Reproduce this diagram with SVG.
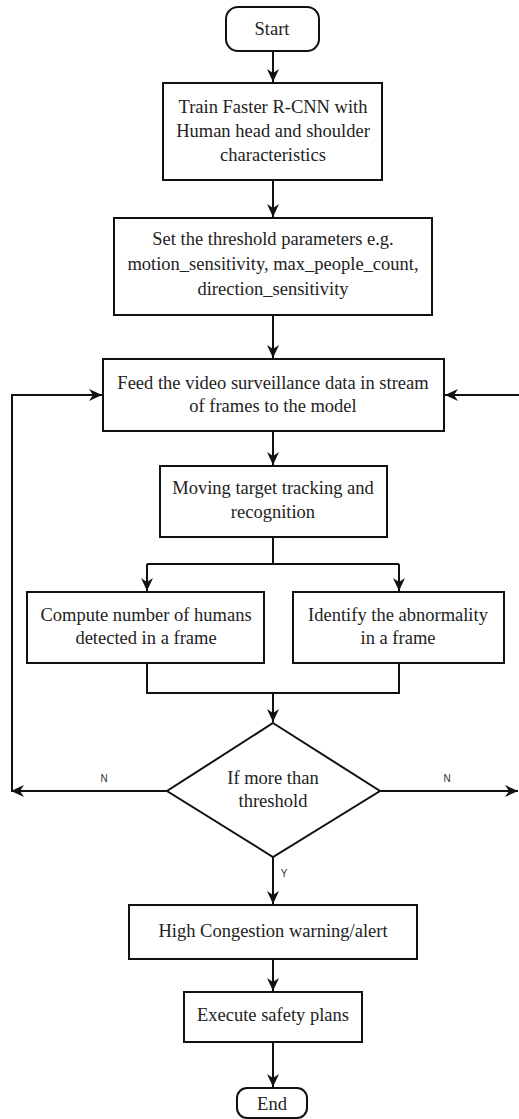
<svg xmlns="http://www.w3.org/2000/svg" width="519" height="1119" viewBox="0 0 519 1119">
<style>
.box{fill:#fff;stroke:#111;stroke-width:2}
.t{font-family:"Liberation Serif","Times New Roman",serif;font-size:18.5px;fill:#222;text-anchor:middle}
.lbl{font-family:"Liberation Sans",Arial,sans-serif;font-size:10px;fill:#333;text-anchor:middle}
.c{fill:none;stroke:#111;stroke-width:2}
</style>
<defs>
<marker id="ah" markerUnits="userSpaceOnUse" markerWidth="14" markerHeight="12" refX="13" refY="6" orient="auto">
<path d="M0,0 L13,6 L0,12 L4,6 z" fill="#111"/>
</marker>
</defs>
<rect width="519" height="1119" fill="#fff"/>
<g id="connectors">
<path class="c" d="M273,51 V82" marker-end="url(#ah)"/>
<path class="c" d="M273,180 V217" marker-end="url(#ah)"/>
<path class="c" d="M273,315 V358" marker-end="url(#ah)"/>
<path class="c" d="M273,431 V465" marker-end="url(#ah)"/>
<path class="c" d="M273,537 V564 M147,564 H399"/>
<path class="c" d="M147,564 V591" marker-end="url(#ah)"/>
<path class="c" d="M399,564 V591" marker-end="url(#ah)"/>
<path class="c" d="M147,663 V693 H399 V663"/>
<path class="c" d="M273,693 V722" marker-end="url(#ah)"/>
<path class="c" d="M167,791 H11" marker-end="url(#ah)"/>
<path class="c" d="M12,791 V395 H102" marker-end="url(#ah)"/>
<path class="c" d="M380,791 H518" marker-end="url(#ah)"/>
<path class="c" d="M519,395 H445" marker-end="url(#ah)"/>
<path class="c" d="M273,857 V904" marker-end="url(#ah)"/>
<path class="c" d="M273,959 V991" marker-end="url(#ah)"/>
<path class="c" d="M273,1042 V1087" marker-end="url(#ah)"/>
<text class="lbl" x="104" y="782">N</text>
<text class="lbl" x="447" y="782">N</text>
<text class="lbl" x="284" y="877">Y</text>
</g>
<g id="start">
<rect class="box" x="226" y="7" width="93" height="44" rx="12"/>
<text class="t" x="272" y="35">Start</text>
</g>
<g id="train">
<rect class="box" x="163" y="83" width="219" height="97"/>
<text class="t" x="273" y="113">Train Faster R-CNN with</text>
<text class="t" x="273" y="137">Human head and shoulder</text>
<text class="t" x="273" y="161">characteristics</text>
</g>
<g id="threshold">
<rect class="box" x="114" y="218" width="318" height="97"/>
<text class="t" x="273" y="245">Set the threshold parameters e.g.</text>
<text class="t" x="273" y="270">motion_sensitivity, max_people_count,</text>
<text class="t" x="273" y="295">direction_sensitivity</text>
</g>
<g id="feed">
<rect class="box" x="103" y="359" width="341" height="72"/>
<text class="t" x="273" y="389">Feed the video surveillance data in stream</text>
<text class="t" x="273" y="412">of frames to the model</text>
</g>
<g id="tracking">
<rect class="box" x="160" y="466" width="227" height="71"/>
<text class="t" x="273" y="494">Moving target tracking and</text>
<text class="t" x="273" y="518">recognition</text>
</g>
<g id="compute">
<rect class="box" x="27" y="592" width="237" height="71"/>
<text class="t" x="146" y="621">Compute number of humans</text>
<text class="t" x="146" y="644">detected in a frame</text>
</g>
<g id="identify">
<rect class="box" x="293" y="592" width="211" height="71"/>
<text class="t" x="398" y="621">Identify the abnormality</text>
<text class="t" x="398" y="644">in a frame</text>
</g>
<g id="decision">
<polygon class="box" points="273,723 380,791 273,857 167,791"/>
<text class="t" x="273" y="784">If more than</text>
<text class="t" x="273" y="807">threshold</text>
</g>
<g id="alert">
<rect class="box" x="129" y="905" width="288" height="54"/>
<text class="t" x="273" y="937">High Congestion warning/alert</text>
</g>
<g id="execute">
<rect class="box" x="184" y="992" width="178" height="50"/>
<text class="t" x="273" y="1021">Execute safety plans</text>
</g>
<g id="end">
<rect class="box" x="237" y="1088" width="70" height="30" rx="10"/>
<text class="t" x="272" y="1110">End</text>
</g>
</svg>
